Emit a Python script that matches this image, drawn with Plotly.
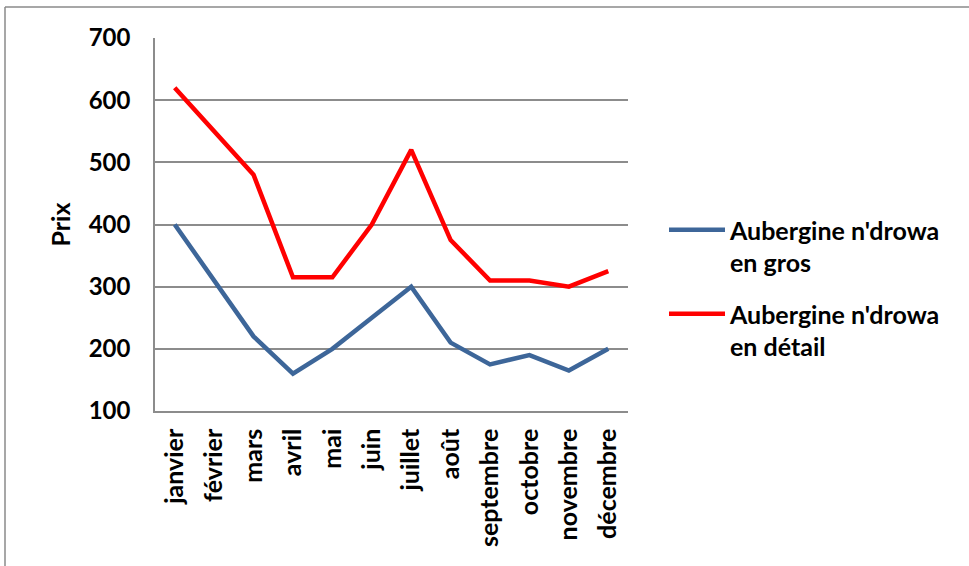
import plotly.graph_objects as go

# Monthly aubergine prices (wholesale vs retail)
months = ["janvier", "février", "mars", "avril", "mai", "juin", "juillet",
          "août", "septembre", "octobre", "novembre", "décembre"]
prix_gros = [400, 310, 220, 160, 200, 250, 300, 210, 175, 190, 165, 200]
prix_detail = [620, 550, 480, 315, 315, 400, 520, 375, 310, 310, 300, 325]
series_names = ["Aubergine n'drowa<br>en gros", "Aubergine n'drowa<br>en détail"]
y_ticks = [100, 200, 300, 400, 500, 600, 700]

W, H = 969, 566
L, R, T, B = 155, 341, 38, 155
pw, ph = W - L - R, H - T - B

FONT = "Lato"
grid_col = "#8c8c8c"

fig = go.Figure()
fig.add_trace(go.Scatter(x=months, y=prix_gros, mode="lines", name=series_names[0],
                         legendgroup="gros",
                         line=dict(color="#3d6699", width=4.5)))
fig.add_trace(go.Scatter(x=months, y=prix_detail, mode="lines", name=series_names[1],
                         legendgroup="detail",
                         line=dict(color="#ff0000", width=4.5)))


def px_x(v):
    return (v - L) / pw


def px_y(v):
    return 1 - (v - T) / ph


# outer chart frame (top and left edges)
fig.add_shape(type="line", xref="paper", yref="paper",
              x0=px_x(5), x1=px_x(W + 5), y0=px_y(7), y1=px_y(7),
              line=dict(color="#8a8a8a", width=1.5))
fig.add_shape(type="line", xref="paper", yref="paper",
              x0=px_x(5), x1=px_x(5), y0=px_y(7), y1=px_y(H + 5),
              line=dict(color="#8a8a8a", width=1.5))

bold = dict(family=FONT, color="black", weight="bold")

fig.update_layout(
    width=W, height=H,
    margin=dict(l=L, r=R, t=T, b=B, pad=0),
    paper_bgcolor="white", plot_bgcolor="white",
    font=dict(family=FONT, size=24, color="black"),
    showlegend=True,
    legend=dict(x=px_x(664), y=px_y(207), xanchor="left", yanchor="top",
                font=dict(size=25, **bold),
                itemwidth=56, valign="top",
                traceorder="grouped", tracegroupgap=16,
                bgcolor="rgba(0,0,0,0)"),
)
fig.update_xaxes(
    type="category", range=[-0.5, 11.5],
    showline=True, linecolor=grid_col, linewidth=1.5,
    showgrid=False, ticks="", tickangle=-90,
    tickfont=dict(size=25, **bold),
    ticklabelstandoff=6,
)
fig.update_yaxes(
    range=[100, 700], tickvals=y_ticks,
    showline=True, linecolor=grid_col, linewidth=1.5,
    showgrid=True, gridcolor=grid_col, gridwidth=1.5,
    zeroline=False, ticks="",
    tickfont=dict(size=24, **bold),
    ticklabelstandoff=18,
    title=dict(text="Prix", font=dict(size=25, **bold), standoff=11),
)

fig.write_html("out.html")
